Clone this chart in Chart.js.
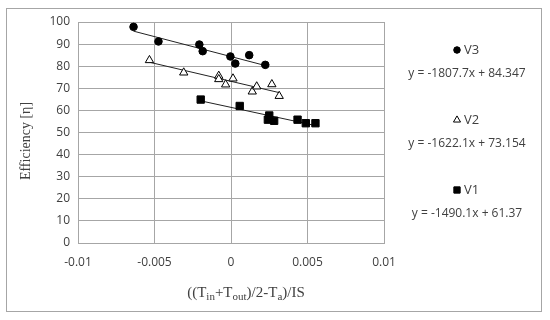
<!DOCTYPE html>
<html>
<head>
<meta charset="utf-8">
<script src="https://cdn.jsdelivr.net/npm/chart.js@4/dist/chart.umd.min.js"></script>
<style>
  html, body { margin: 0; padding: 0; background: #fff; }
  #wrap { width: 550px; height: 320px; }
</style>
</head>
<body>
<div id="wrap"><canvas id="chart" width="550" height="320"></canvas></div>
<script>
/* ======================================
   DATA
====================================== */
const seriesNames = ["V3", "V2", "V1"];

const v3X = [-0.00637, -0.00474, -0.00207, -0.00185, -0.00004, 0.00028, 0.00119, 0.00224];
const v3Y = [97.8, 91.2, 89.8, 86.8, 84.4, 81.2, 85.0, 80.6];

const v2X = [-0.00533, -0.00309, -0.0008, -0.0008, -0.00035, 0.00013, 0.00139, 0.00168, 0.00267, 0.00315];
const v2Y = [82.7, 77.1, 75.6, 74.1, 71.7, 74.4, 68.5, 70.8, 71.8, 66.5];

const v1X = [-0.00198, 0.00057, 0.0025, 0.00241, 0.00282, 0.00435, 0.00489, 0.00552];
const v1Y = [64.9, 62.0, 57.7, 55.8, 55.3, 55.8, 54.2, 54.2];

// trendline coefficients (slope, intercept) as printed
const slopes = [-1807.7, -1622.1, -1490.1];
const intercepts = [84.347, 73.154, 61.37];
const equations = ["y = -1807.7x + 84.347", "y = -1622.1x + 73.154", "y = -1490.1x + 61.37"];

const xTicks = [-0.01, -0.005, 0, 0.005, 0.01];
const yTicks = [0, 10, 20, 30, 40, 50, 60, 70, 80, 90, 100];

/* ======================================
   HELPERS
====================================== */
function pts(xs, ys) {
  return xs.map((x, i) => ({ x: x, y: ys[i] }));
}

function trend(xs, i) {
  const lo = Math.min(...xs), hi = Math.max(...xs);
  return [
    { x: lo, y: slopes[i] * lo + intercepts[i] },
    { x: hi, y: slopes[i] * hi + intercepts[i] }
  ];
}

const markerStyles = [
  { pointStyle: "circle", radius: 3.8, bg: "#000", border: "#000" },
  { pointStyle: "triangle", radius: 4.8, bg: "#fff", border: "#000" },
  { pointStyle: "rect", radius: 5.2, bg: "#000", border: "#000" }
];

const allX = [v3X, v2X, v1X];
const allY = [v3Y, v2Y, v1Y];

const datasets = [];
allX.forEach((xs, i) => {
  const m = markerStyles[i];
  datasets.push({
    label: seriesNames[i],
    type: "scatter",
    data: pts(xs, allY[i]),
    pointStyle: m.pointStyle,
    pointRadius: m.radius,
    pointBackgroundColor: m.bg,
    pointBorderColor: m.border,
    pointBorderWidth: 1,
    order: 1
  });
  datasets.push({
    label: seriesNames[i] + " trend",
    type: "line",
    data: trend(xs, i),
    borderColor: "#222",
    borderWidth: 1,
    pointRadius: 0,
    fill: false,
    order: 2
  });
});

/* ======================================
   DECORATIONS PLUGIN
====================================== */
const decor = {
  id: "decor",
  afterDraw(chart) {
    const ctx = chart.ctx;
    ctx.save();

    // outer frame
    ctx.strokeStyle = "#a6a6a6";
    ctx.lineWidth = 1;
    ctx.strokeRect(6.5, 8.5, 535, 303);

    // y title
    ctx.fillStyle = "#404040";
    ctx.font = "14px 'Liberation Serif', serif";
    ctx.translate(26, 141);
    ctx.rotate(-Math.PI / 2);
    ctx.textAlign = "center";
    ctx.textBaseline = "middle";
    ctx.fillText("Efficiency [\u03B7]", 0, 0);
    ctx.setTransform(1, 0, 0, 1, 0, 0);

    // x title with subscripts
    const parts = [
      ["((T", false], ["in", true], ["+T", false], ["out", true],
      [")/2-T", false], ["a", true], [")/IS", false]
    ];
    const big = "15px 'Liberation Serif', serif";
    const small = "11px 'Liberation Serif', serif";
    let w = 0;
    parts.forEach(p => { ctx.font = p[1] ? small : big; w += ctx.measureText(p[0]).width; });
    let x = 246 - w / 2;
    const base = 297;
    ctx.textAlign = "left";
    ctx.textBaseline = "alphabetic";
    parts.forEach(p => {
      ctx.font = p[1] ? small : big;
      ctx.fillText(p[0], x, p[1] ? base + 3 : base);
      x += ctx.measureText(p[0]).width;
    });

    // legend with equations
    const rows = [50, 120, 190];
    seriesNames.forEach((name, i) => {
      const m = markerStyles[i];
      const y = rows[i];
      ctx.fillStyle = m.bg;
      ctx.strokeStyle = m.border;
      ctx.lineWidth = 1;
      Chart.helpers.drawPoint(ctx, {
        pointStyle: m.pointStyle, radius: m.radius * 0.85, borderWidth: 1
      }, 457, y);
      if (m.bg === "#000") ctx.fill();
      ctx.fillStyle = "#404040";
      ctx.font = "13px 'Open Sans', 'Liberation Sans', sans-serif";
      ctx.textAlign = "left";
      ctx.textBaseline = "middle";
      ctx.fillText(name, 464, y);
      ctx.textAlign = "center";
      ctx.font = "12px 'Open Sans', 'Liberation Sans', sans-serif";
      ctx.fillText(equations[i], 467, y + 24);
    });

    ctx.restore();
  }
};

/* ======================================
   CHART
====================================== */
new Chart(document.getElementById("chart"), {
  type: "scatter",
  data: { datasets: datasets },
  plugins: [decor],
  options: {
    responsive: false,
    animation: false,
    layout: { padding: { left: 8, right: 166, top: 22, bottom: 0 } },
    plugins: {
      legend: { display: false },
      tooltip: { enabled: false }
    },
    scales: {
      x: {
        type: "linear",
        min: -0.01,
        max: 0.01,
        afterBuildTicks: s => { s.ticks = xTicks.map(v => ({ value: v })); },
        afterFit: s => { s.height = 77; },
        grid: { color: "#a6a6a6", drawTicks: false },
        border: { color: "#a6a6a6" },
        ticks: {
          padding: 12,
          color: "#404040",
          font: { size: 12, family: "'Open Sans', 'Liberation Sans', sans-serif" },
          callback: v => String(v)
        }
      },
      y: {
        min: 0,
        max: 100,
        afterBuildTicks: s => { s.ticks = yTicks.map(v => ({ value: v })); },
        afterFit: s => { s.width = 70; },
        grid: { color: "#a6a6a6", drawTicks: false },
        border: { color: "#a6a6a6" },
        ticks: {
          padding: 8,
          color: "#404040",
          font: { size: 12, family: "'Open Sans', 'Liberation Sans', sans-serif" }
        }
      }
    }
  }
});
</script>
</body>
</html>
